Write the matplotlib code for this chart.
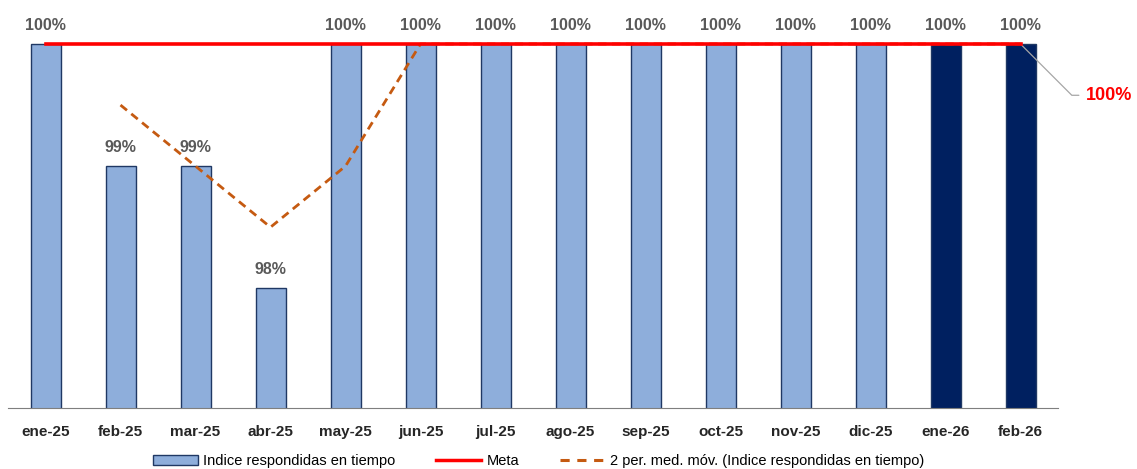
import numpy as np
import pandas as pd
import matplotlib
matplotlib.use("Agg")
import matplotlib.pyplot as plt
from matplotlib.patches import Patch
from matplotlib.lines import Line2D

meses = ["ene-25", "feb-25", "mar-25", "abr-25", "may-25", "jun-25", "jul-25",
         "ago-25", "sep-25", "oct-25", "nov-25", "dic-25", "ene-26", "feb-26"]
indice = [100, 99, 99, 98, 100, 100, 100, 100, 100, 100, 100, 100, 100, 100]
meta = [100] * len(meses)
proyectado = [False] * 12 + [True, True]

plt.rcParams["font.family"] = ["Liberation Sans", "DejaVu Sans"]

x = np.arange(len(meses))
media_movil = pd.Series(indice, dtype=float).rolling(2).mean()

fig = plt.figure(figsize=(11.37, 4.69), dpi=100)
ax = fig.add_axes([8 / 1137, 61 / 469, 1050 / 1137, 408 / 469])

colores = ["#002060" if p else "#8EAEDB" for p in proyectado]
ax.bar(x, indice, width=0.4, color=colores, edgecolor="#1F3864", linewidth=1.0,
       zorder=2)
# media movil queda debajo de la meta
ax.plot(x, media_movil, color="#C55A11", linewidth=2.0, linestyle=(0, (3, 2)),
        zorder=3)
ax.plot(x, meta, color="#FF0000", linewidth=2.6, zorder=4)

for xi, v in zip(x, indice):
    ax.text(xi, v + 0.09, f"{v}%", ha="center", va="bottom", fontsize=11.5,
            fontweight="bold", color="#595959")

ax.annotate(f"{meta[-1]}%", xy=(x[-1], meta[-1]), xytext=(x[-1] + 1.18, 99.58),
            ha="center", va="center", fontsize=13, fontweight="bold",
            color="#FF0000",
            arrowprops=dict(arrowstyle="-", color="#A6A6A6", lw=0.9,
                            connectionstyle="angle,angleA=0,angleB=-45,rad=0",
                            shrinkA=3, shrinkB=0))

ax.set_xlim(-0.5, len(meses) - 0.5)
ax.set_ylim(97.02, 100.36)
ax.set_xticks(x)
ax.set_xticklabels(meses, fontsize=11, fontweight="bold", color="#262626")
ax.tick_params(axis="x", length=0, pad=12)
ax.set_yticks([])
for lado in ["top", "right", "left"]:
    ax.spines[lado].set_visible(False)
ax.spines["bottom"].set_color("#7F7F7F")

handles = [
    Patch(facecolor="#8EAEDB", edgecolor="#1F3864", linewidth=1.0),
    Line2D([], [], color="#FF0000", linewidth=2.5),
    Line2D([], [], color="#C55A11", linewidth=2.2, linestyle=(0, (3, 2.5))),
]
labels = ["Indice respondidas en tiempo", "Meta",
          "2 per. med. móv. (Indice respondidas en tiempo)"]
fig.legend(handles, labels, loc="lower center", bbox_to_anchor=(0.4736, -0.026),
           ncol=3, frameon=False, handlelength=3.1, handleheight=0.6,
           columnspacing=2.8, handletextpad=0.35,
           prop={"family": ["Liberation Sans", "DejaVu Sans"], "size": 10.5})

fig.savefig("out.png", dpi=100, facecolor="white")
